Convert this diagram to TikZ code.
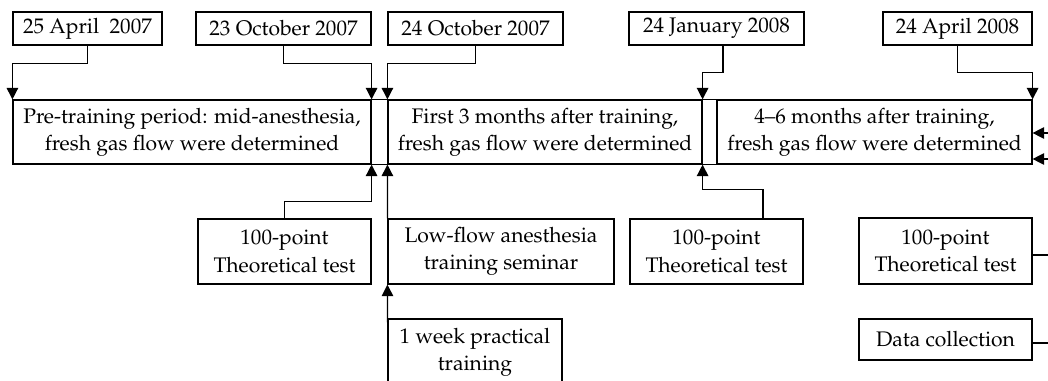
\documentclass[tikz,border=0pt]{standalone}
\usepackage[T1]{fontenc}
\renewcommand{\rmdefault}{ppl}
\usetikzlibrary{arrows.meta,calc}
\begin{document}
\begin{tikzpicture}[x=0.02cm,y=-0.02cm,
  box/.style={draw, line width=0.7pt, rectangle, inner sep=0pt, align=center,
    font=\fontsize{12}{15.5}\selectfont},
  conn/.style={line width=0.7pt},
  arr/.style={line width=0.7pt, -{Triangle[length=2.3mm,width=2.3mm]}}]
\clip (0,0) rectangle (1048,381);
% date boxes
\node[box, minimum width=2.98cm, minimum height=0.66cm] (d1) at (87.5,28.5) {25 April\ \ 2007};
\node[box, minimum width=3.5cm, minimum height=0.66cm] (d2) at (283.5,28.5) {23 October 2007};
\node[box, minimum width=3.5cm, minimum height=0.66cm] (d3) at (475.5,28.5) {24 October 2007};
\node[box, minimum width=3.5cm, minimum height=0.66cm] (d4) at (716.5,28.5) {24 January 2008};
\node[box, minimum width=2.98cm, minimum height=0.66cm] (d5) at (957.5,28.5) {24 April 2008};
% period boxes
\node[box, minimum width=7.16cm, minimum height=1.28cm] (b1) at (192,132) {Pre-training period: mid-anesthesia,\\fresh gas flow were determined};
\node[box, minimum width=6.28cm, minimum height=1.28cm] (b2) at (545,132) {First 3 months after training,\\fresh gas flow were determined};
\node[box, minimum width=6.3cm, minimum height=1.28cm] (b3) at (874.5,132) {4--6 months after training,\\fresh gas flow were determined};
\draw[conn] (b1.north east) -- (b2.north west) (b1.south east) -- (b2.south west);
\draw[conn] (b2.north east) -- (b3.north west) (b2.south east) -- (b3.south west);
% lower boxes
\node[box, minimum width=3.46cm, minimum height=1.3cm] (t1) at (284.5,251.5) {100-point\\Theoretical test};
\node[box, minimum width=4.52cm, minimum height=1.3cm] (t2) at (501,251.5) {Low-flow anesthesia\\training seminar};
\node[box, minimum width=3.48cm, minimum height=1.32cm] (t3) at (475,352) {1 week practical\\training};
\node[box, minimum width=3.46cm, minimum height=1.3cm] (t4) at (716.5,251.5) {100-point\\Theoretical test};
\node[box, minimum width=3.46cm, minimum height=1.32cm] (t5) at (945.5,251) {100-point\\Theoretical test};
\node[box, minimum width=3.46cm, minimum height=0.82cm] (t6) at (945.5,339.5) {Data collection};
% free ends
\coordinate (bot) at (388,395);
\coordinate (e1) at (1050,133);
\coordinate (e2) at (1050,159);
\coordinate (e3) at (1050,255);
\coordinate (e4) at (1050,343);
% top connectors
\draw[arr] (d1.south) -- ++(0,18) -| (b1.north west);
\draw[arr] (d2.south) -- ++(0,18) -| (b1.north east);
\draw[arr] (d3.south) -- ++(0,18) -| (b2.north west);
\draw[arr] ($(d4.south)+(6.5,0)$) -- ++(0,27) -| (b2.north east);
\draw[arr] (d5.south) -- ++(0,27) -| (b3.north east);
% bottom connectors
\draw[arr] (t1.north) -- ++(0,-17) -| (b1.south east);
\draw[arr] (bot) -- (t2.south west);
\draw[arr] (t2.north west) -- (b2.south west);
\draw[arr] ($(t4.north)+(46.5,0)$) -- ++(0,-29) -| (b2.south east);
% right side
\draw[arr] (e1) -- (e1 -| b3.east);
\draw[arr] (e2) -- (e2 -| b3.east);
\draw[conn] (e3 -| t5.east) -- (e3);
\draw[conn] (e4 -| t6.east) -- (e4);
\end{tikzpicture}
\end{document}
